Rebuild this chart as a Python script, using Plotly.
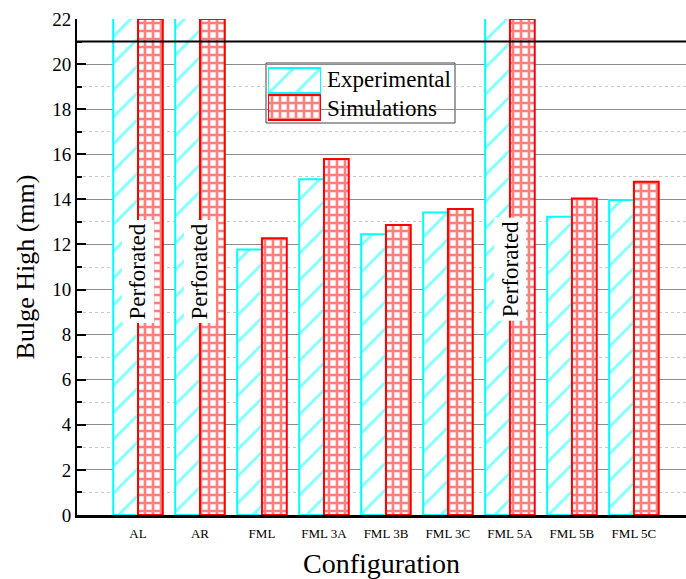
import plotly.graph_objects as go

# Bulge height per laminate configuration
categories = ["AL", "AR", "FML", "FML 3A", "FML 3B", "FML 3C", "FML 5A", "FML 5B", "FML 5C"]
experimental = [22.5, 22.5, 11.78, 14.89, 12.45, 13.42, 22.5, 13.23, 13.97]
simulations = [22.0, 22.0, 12.27, 15.79, 12.86, 13.57, 22.0, 14.04, 14.78]
perforated = ["AL", "AR", "FML 5A"]
perforated_y = [10.8, 10.8, 10.9]
y_ticks = [0, 2, 4, 6, 8, 10, 12, 14, 16, 18, 20, 22]

W, H = 686, 579
L, R, T, B = 77, 0, 19, 64
SERIF = "Liberation Serif, Times New Roman, serif"

CYAN = "rgb(0,255,255)"
RED = "rgb(255,0,0)"

exp_pattern = dict(shape="/", fgcolor=CYAN, bgcolor="white", size=19, solidity=0.15)
sim_pattern = dict(shape="+", fgcolor=RED, bgcolor="white", size=8, solidity=0.55)

fig = go.Figure()
fig.add_trace(go.Bar(
    x=categories, y=experimental, name="Experimental",
    marker=dict(color="white", pattern=exp_pattern, line=dict(color=CYAN, width=2)),
    showlegend=False,
))
fig.add_trace(go.Bar(
    x=categories, y=simulations, name="Simulations",
    marker=dict(color="white", pattern=sim_pattern, line=dict(color=RED, width=2)),
    showlegend=False,
))

# Legend swatches drawn as bars on a small inset axis pair
px2x = lambda px: (px - L) / (W - L - R)
py2y = lambda py: (H - B - py) / (H - B - T)
legend_names = ["Simulations", "Experimental"]
fig.add_trace(go.Bar(
    x=[1], y=["Experimental"], orientation="h", xaxis="x2", yaxis="y2",
    marker=dict(color="white", pattern=exp_pattern, line=dict(color=CYAN, width=2)),
    width=0.92, showlegend=False, hoverinfo="skip",
))
fig.add_trace(go.Bar(
    x=[1], y=["Simulations"], orientation="h", xaxis="x2", yaxis="y2",
    marker=dict(color="white", pattern=sim_pattern, line=dict(color=RED, width=2)),
    width=0.92, showlegend=False, hoverinfo="skip",
))

annotations = []
for cat, yv in zip(perforated, perforated_y):
    annotations.append(dict(
        x=cat, y=yv, xref="x", yref="y", text="Perforated", textangle=-90,
        showarrow=False, bgcolor="white", borderpad=3,
        font=dict(family=SERIF, size=23, color="black"),
    ))
for name, py in [("Experimental", 80), ("Simulations", 108)]:
    annotations.append(dict(
        x=px2x(325), y=py2y(py), xref="paper", yref="paper", text=name,
        xanchor="left", yanchor="middle", showarrow=False,
        font=dict(family=SERIF, size=23, color="black"),
    ))

shapes = [
    # legend frame
    dict(type="rect", xref="paper", yref="paper",
         x0=px2x(266), x1=px2x(455), y0=py2y(123), y1=py2y(63),
         line=dict(color="#404040", width=1), fillcolor="white", layer="below"),
    # reference line at 21 mm
    dict(type="line", xref="paper", yref="y", x0=0, x1=1, y0=21, y1=21,
         line=dict(color="black", width=2)),
]

fig.update_layout(
    width=W, height=H,
    margin=dict(l=L, r=R, t=T, b=B, pad=0),
    paper_bgcolor="white", plot_bgcolor="white",
    barmode="group", bargap=0.2, bargroupgap=0.0,
    font=dict(family=SERIF, color="black"),
    annotations=annotations, shapes=shapes,
    xaxis=dict(
        range=[-0.984, 8.84], showgrid=False, showline=True, linecolor="black", linewidth=3,
        ticks="", tickfont=dict(size=13, family=SERIF), ticklabelstandoff=4,
        title=dict(text="Configuration", font=dict(size=28, family=SERIF), standoff=16),
        zeroline=False,
    ),
    yaxis=dict(
        range=[0, 22], tickvals=y_ticks, showline=True, linecolor="black", linewidth=2,
        ticks="inside", ticklen=9, tickwidth=2, tickcolor="black",
        tickfont=dict(size=19, family=SERIF),
        showgrid=True, gridcolor="#8c8c8c", gridwidth=1, zeroline=False,
        minor=dict(dtick=1, ticks="inside", ticklen=5, tickwidth=1.5, tickcolor="black",
                   showgrid=True, gridcolor="#c8c8c8", griddash="dot", gridwidth=1),
        title=dict(text="Bulge High (mm)", font=dict(size=26, family=SERIF), standoff=10),
    ),
    xaxis2=dict(domain=[px2x(268), px2x(321)], range=[0, 1], visible=False,
                anchor="y2", fixedrange=True),
    yaxis2=dict(domain=[py2y(121), py2y(67)], categoryorder="array",
                categoryarray=legend_names, visible=False, anchor="x2", fixedrange=True),
)

fig.write_html("out.html")
